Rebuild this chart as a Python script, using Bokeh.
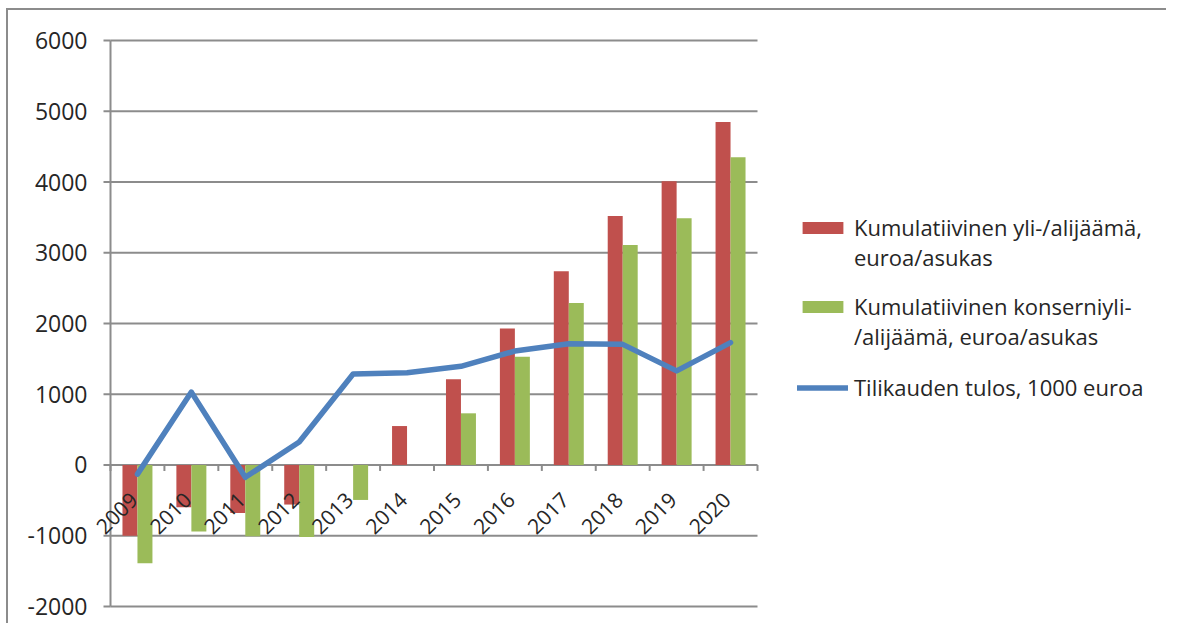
import math
from bokeh.plotting import figure
from bokeh.models import Range1d, Legend, LegendItem, FixedTicker, ColumnDataSource
from bokeh.core.properties import value
from bokeh.embed import file_html
from bokeh.resources import INLINE

years = [2009, 2010, 2011, 2012, 2013, 2014, 2015, 2016, 2017, 2018, 2019, 2020]
year_labels = ["2009", "2010", "2011", "2012", "2013", "2014", "2015", "2016", "2017", "2018", "2019", "2020"]
kumulatiivinen = [-1000, -600, -680, -560, 0, 550, 1210, 1930, 2740, 3520, 4010, 4850]
konserni = [-1390, -940, -1010, -1020, -495, 0, 730, 1530, 2290, 3110, 3490, 4350]
tulos = [-130, 1030, -175, 325, 1285, 1305, 1395, 1610, 1715, 1705, 1330, 1730]
y_ticks = [-2000, -1000, 0, 1000, 2000, 3000, 4000, 5000, 6000]
y_tick_labels = ["-2000", "-1000", "0", "1000", "2000", "3000", "4000", "5000", "6000"]
labels = ["\nKumulatiivinen yli-/alijäämä,\neuroa/asukas",
          "\nKumulatiivinen konserniyli-\n/alijäämä, euroa/asukas",
          "\nTilikauden tulos, 1000 euroa\n "]

RED = "#C0504D"
GREEN = "#9BBB59"
BLUE = "#4F81BD"
GRID = "#8C8C8C"
TXT = "#262626"
FONT = "Open Sans"

# geometry (pixels)
CAT_PX = 647 / 12          # width of one category
AXIS_GAP = 18              # frame left edge -> visible value axis
FRAME_W = 1072
FRAME_H = 570
YPAD = 30                  # small value padding so edge lines are not clipped
BAR_W = 0.278
PX_PER_UNIT_Y = FRAME_H / (y_ticks[-1] - y_ticks[0] + 2 * YPAD)
LABEL_DROP_PX = 31
LABEL_SHIFT_PX = -4
LEGEND_X = 705
LEGEND_BOTTOMS = [336, 257, 176]   # px above frame bottom, one per legend entry

x_start = years[0] - 0.5 - AXIS_GAP / CAT_PX
x_end = x_start + FRAME_W / CAT_PX
cat_lo = years[0] - 0.5
cat_hi = years[-1] + 0.5
tick_len = 7 / CAT_PX
tick_down = 6 / PX_PER_UNIT_Y

src = ColumnDataSource(dict(year=years, label=year_labels, kum=kumulatiivinen,
                            kon=konserni, tulos=tulos,
                            xr=[y - BAR_W / 2 for y in years],
                            xg=[y + BAR_W / 2 for y in years],
                            yb=[y - 0.5 for y in years],
                            xl=[y + LABEL_SHIFT_PX / CAT_PX for y in years]))

p = figure(x_range=Range1d(x_start, x_end), y_range=Range1d(y_ticks[0] - YPAD, y_ticks[-1] + YPAD),
           frame_width=FRAME_W, frame_height=FRAME_H,
           min_border_left=84, min_border_top=28, min_border_right=2, min_border_bottom=15,
           output_backend="svg", toolbar_location=None)
p.styles = {"border-top": "2px solid #8C8C8C", "border-left": "2px solid #8C8C8C",
            "margin-left": "6px", "margin-top": "8px"}
p.outline_line_color = None
p.background_fill_color = "white"

p.xaxis.visible = False
p.xgrid.grid_line_color = None
p.ygrid.grid_line_color = None
p.yaxis.ticker = FixedTicker(ticks=y_ticks)
p.yaxis.major_label_overrides = dict(zip(y_ticks, y_tick_labels))
p.yaxis.axis_line_color = None
p.yaxis.major_tick_line_color = None
p.yaxis.major_tick_out = 0
p.yaxis.major_tick_in = 0
p.yaxis.minor_tick_line_color = None
p.yaxis.major_label_text_font = FONT
p.yaxis.major_label_text_font_size = "23px"
p.yaxis.major_label_text_color = TXT
p.yaxis.major_label_standoff = 5

# gridlines and visible value axis
p.segment(x0=cat_lo, x1=cat_hi, y0=y_ticks, y1=y_ticks, line_color=GRID, line_width=2)
p.segment(x0=cat_lo - tick_len, x1=cat_lo, y0=y_ticks, y1=y_ticks, line_color=GRID, line_width=2)
p.segment(x0=cat_lo, x1=cat_lo, y0=y_ticks[0], y1=y_ticks[-1], line_color=GRID, line_width=2)

r_red = p.vbar(x="xr", top="kum", bottom=0, width=BAR_W, source=src,
               fill_color=RED, line_color=None)
r_green = p.vbar(x="xg", top="kon", bottom=0, width=BAR_W, source=src,
                 fill_color=GREEN, line_color=None)

# category axis at zero: ticks at category boundaries
p.segment(x0="yb", x1="yb", y0=0, y1=-tick_down, source=src, line_color=GRID, line_width=2)
p.segment(x0=cat_hi, x1=cat_hi, y0=0, y1=-tick_down, line_color=GRID, line_width=2)

r_line = p.line(x="year", y="tulos", source=src, line_color=BLUE, line_width=5.5,
                line_join="round", line_cap="round")

p.text(x="xl", y=-LABEL_DROP_PX / PX_PER_UNIT_Y, text="label", source=src, angle=math.pi / 4,
       text_align="right", text_baseline="middle", text_font=value(FONT),
       text_font_size="21px", text_color=TXT)

for lab, rend, bottom in zip(labels, [r_red, r_green, r_line], LEGEND_BOTTOMS):
    legend = Legend(items=[LegendItem(label=lab, renderers=[rend])],
                    location=(LEGEND_X, bottom), padding=0, margin=0, spacing=0,
                    glyph_width=51, glyph_height=15, label_standoff=6,
                    label_text_font=FONT, label_text_font_size="22px", label_text_color=TXT,
                    border_line_color=None, background_fill_alpha=0)
    p.add_layout(legend, "center")

open("out.html", "w").write(file_html(p, INLINE))
